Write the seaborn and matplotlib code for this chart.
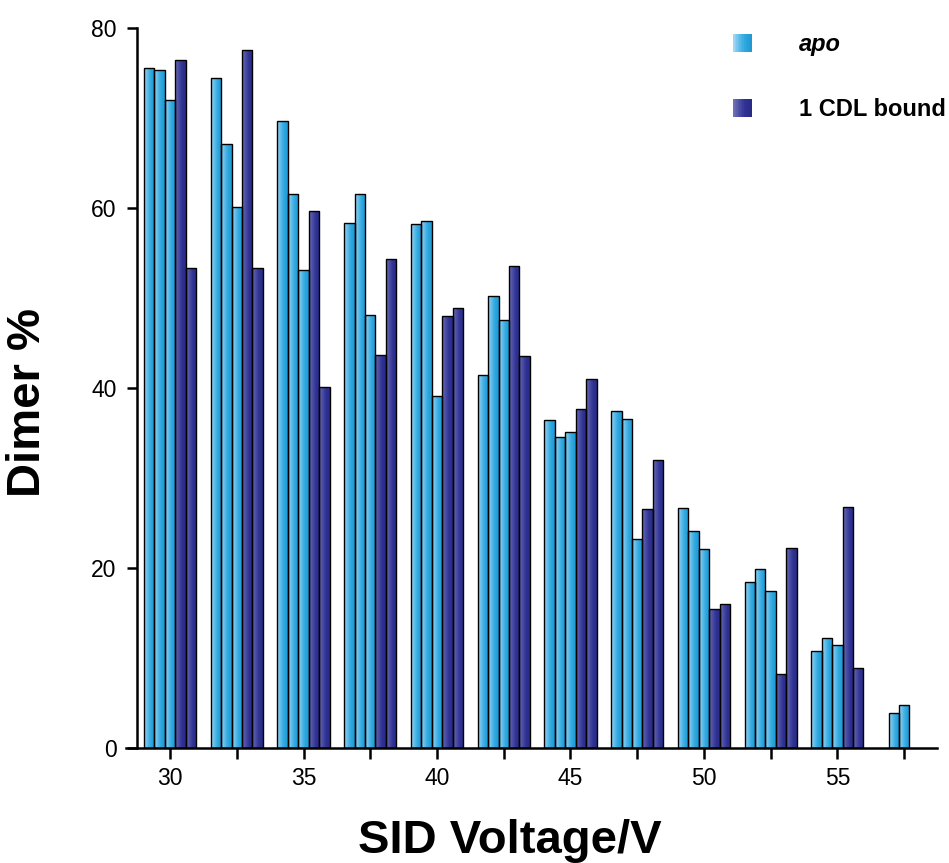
import numpy as np
import pandas as pd
import matplotlib
matplotlib.use("Agg")
import matplotlib.pyplot as plt
import seaborn as sns
from matplotlib.legend_handler import HandlerBase
from matplotlib.patches import Rectangle, Patch
from matplotlib.colors import to_rgb
from matplotlib.ticker import FixedLocator

nan = np.nan
voltages = [30, 32.5, 35, 37.5, 40, 42.5, 45, 47.5, 50, 52.5, 55, 57.5]
apo_1 = [75.6, 74.4, 69.7, 58.3, 58.2, 41.4, 36.4, 37.4, 26.7, 18.5, 10.8, nan]
apo_2 = [75.3, 67.1, 61.5, 61.6, 58.5, 50.2, 34.5, 36.6, 24.1, 19.9, 12.2, 3.9]
apo_3 = [72.0, 60.1, 53.1, 48.1, 39.1, 47.6, 35.1, 23.2, 22.1, 17.5, 11.4, 4.8]
cdl_1 = [76.4, 77.6, 59.7, 43.7, 48.0, 53.6, 37.7, 26.6, 15.5, 8.2, 26.8, nan]
cdl_2 = [53.3, 53.3, 40.1, 54.3, 48.9, 43.6, 41.0, 32.0, 16.0, 22.2, 8.9, nan]
series_names = ["apo 1", "apo 2", "apo 3", "CDL 1", "CDL 2"]
legend_labels = ["apo", "1 CDL bound"]

LIGHT = "#2aa6df"
DARK = "#2e3192"
LIGHT_GRAD = ["#9fd6f3", "#5cbbe9", "#2aa6df", "#2399d3"]
DARK_GRAD = ["#6d6fb6", "#4a4ca3", "#2e3192", "#292c86"]

rows = []
for name, vals in zip(series_names, [apo_1, apo_2, apo_3, cdl_1, cdl_2]):
    for v, val in zip(voltages, vals):
        rows.append({"voltage": v, "series": name, "dimer": val})
df = pd.DataFrame(rows)

sns.set_theme(style="ticks")
plt.rcParams["font.family"] = ["Liberation Sans", "DejaVu Sans"]
plt.rcParams.update({"text.color": "black", "axes.labelcolor": "black",
                     "xtick.color": "black", "ytick.color": "black",
                     "axes.edgecolor": "black"})

fig = plt.figure(figsize=(9.49, 8.63), dpi=100)
ax = fig.add_axes([126 / 949, 115 / 863, 811 / 949, 720 / 863])

palette = {n: (LIGHT if n.startswith("apo") else DARK) for n in series_names}
sns.barplot(data=df, x="voltage", y="dimer", hue="series", hue_order=series_names,
            palette=palette, saturation=1, native_scale=True, width=0.78, gap=0,
            edgecolor="black", linewidth=1.0, legend=False, ax=ax, errorbar=None)


def grad_array(cols, n=32):
    stops = np.array([to_rgb(c) for c in cols])
    xs = np.linspace(0, 1, len(stops))
    t = np.linspace(0, 1, n)
    arr = np.stack([np.interp(t, xs, stops[:, k]) for k in range(3)], axis=-1)
    return arr[np.newaxis, :, :]


for i, cont in enumerate(ax.containers):
    cols = LIGHT_GRAD if i < 3 else DARK_GRAD
    for p in cont:
        h = p.get_height()
        if h == 0 or np.isnan(h):
            continue
        x0, y0 = p.get_x(), p.get_y()
        x1, y1 = x0 + p.get_width(), y0 + h
        im = ax.imshow(grad_array(cols), extent=[x0, x1, y0, y1], aspect="auto",
                       zorder=p.get_zorder() + 0.01, interpolation="bilinear")
        im.set_clip_path(p)
        p.set_facecolor("none")
        p.set_zorder(p.get_zorder() + 0.02)

ax.set_xlim(28.35, 58.73)
ax.set_ylim(0, 80)
ax.set_aspect("auto")

sns.despine(ax=ax)
ax.spines["left"].set_position(("data", 28.75))
ax.spines["left"].set_linewidth(1.8)
ax.spines["bottom"].set_linewidth(1.8)
ax.spines["left"].set_bounds(0, 80)

ax.xaxis.set_major_locator(FixedLocator([30, 35, 40, 45, 50, 55]))
ax.xaxis.set_minor_locator(FixedLocator([32.5, 37.5, 42.5, 47.5, 52.5, 57.5]))
ax.set_xticklabels(["30", "35", "40", "45", "50", "55"])
ax.set_yticks([0, 20, 40, 60, 80])
ax.tick_params(axis="x", which="both", length=8, width=1.8, direction="out",
               pad=5.5, labelsize=16.5, colors="black")
ax.tick_params(axis="y", which="major", length=7.5, width=1.8, direction="out",
               pad=7, labelsize=16.5, colors="black")

ax.set_xlabel("SID Voltage/V", fontsize=34, fontweight="bold", color="black")
ax.set_ylabel("Dimer %", fontsize=34, fontweight="bold", color="black")
ax.xaxis.set_label_coords(0.4735, -0.098)
ax.yaxis.set_label_coords(-0.094, 0.48)


class GradientHandler(HandlerBase):
    def __init__(self, cols):
        super().__init__()
        self.cols = cols

    def create_artists(self, legend, orig_handle, xdescent, ydescent, width,
                       height, fontsize, trans):
        arr = grad_array(self.cols, n=12)[0]
        n = len(arr)
        arts = []
        for i, c in enumerate(arr):
            r = Rectangle((-xdescent + i * width / n, -ydescent), width / n + 0.3,
                          height, facecolor=c, edgecolor="none", transform=trans)
            arts.append(r)
        return arts


h_apo = Patch(facecolor=LIGHT)
h_cdl = Patch(facecolor=DARK)
leg = ax.legend([h_apo, h_cdl], legend_labels,
                handler_map={h_apo: GradientHandler(LIGHT_GRAD),
                             h_cdl: GradientHandler(DARK_GRAD)},
                loc="upper left", bbox_to_anchor=(733 / 949, 1 - 33 / 863),
                bbox_transform=fig.transFigure, frameon=False, borderpad=0,
                borderaxespad=0, fontsize=17, handlelength=0.8, handleheight=0.8,
                handletextpad=2.0, labelspacing=1.8)
for t in leg.get_texts():
    t.set_fontweight("bold")
    t.set_color("black")
leg.get_texts()[0].set_style("italic")

fig.savefig("out.png", dpi=100)
